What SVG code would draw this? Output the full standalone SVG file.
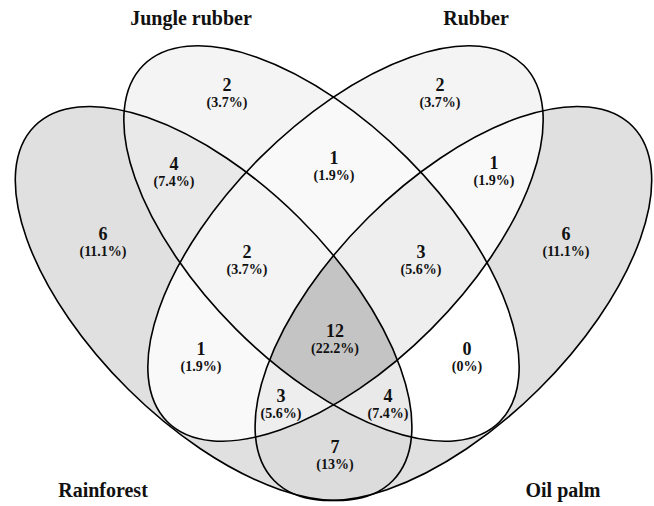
<svg xmlns="http://www.w3.org/2000/svg" xmlns:xlink="http://www.w3.org/1999/xlink" width="654" height="506" viewBox="0 0 654 506">
<style>
.o{fill:none;stroke:#000;stroke-width:1.6}
.n{font-family:"Liberation Serif","Times New Roman",serif;font-weight:bold;font-size:18px;text-anchor:middle;fill:#111}
.p{font-family:"Liberation Serif","Times New Roman",serif;font-weight:bold;font-size:14px;text-anchor:middle;fill:#111}
.t{font-family:"Liberation Serif","Times New Roman",serif;font-weight:bold;font-size:20px;text-anchor:middle;fill:#111}
</style>
<defs>
<ellipse id="eRF" cx="213.6" cy="303.5" rx="252" ry="121" transform="rotate(44.7 213.6 303.5)"/>
<ellipse id="eJR" cx="321.5" cy="243.5" rx="252" ry="121" transform="rotate(45 321.5 243.5)"/>
<ellipse id="eRB" cx="345.5" cy="243.5" rx="252" ry="121" transform="rotate(-45 345.5 243.5)"/>
<ellipse id="eOP" cx="453.4" cy="303.5" rx="252" ry="121" transform="rotate(-44.7 453.4 303.5)"/>
<clipPath id="cRF"><use xlink:href="#eRF"/></clipPath>
<clipPath id="cJR"><use xlink:href="#eJR"/></clipPath>
<clipPath id="cRB"><use xlink:href="#eRB"/></clipPath>
<clipPath id="cOP"><use xlink:href="#eOP"/></clipPath>
</defs>
<rect width="654" height="506" fill="#fff"/>
<g id="regions">
<use xlink:href="#eRF" fill="#e0e0e0"/>
<use xlink:href="#eJR" fill="#f4f4f4"/>
<use xlink:href="#eRB" fill="#f4f4f4"/>
<use xlink:href="#eOP" fill="#e0e0e0"/>
<use xlink:href="#eJR" clip-path="url(#cRF)" fill="#e9e9e9"/>
<use xlink:href="#eRB" clip-path="url(#cRF)" fill="#f9f9f9"/>
<use xlink:href="#eOP" clip-path="url(#cRF)" fill="#dcdcdc"/>
<use xlink:href="#eRB" clip-path="url(#cJR)" fill="#f9f9f9"/>
<use xlink:href="#eOP" clip-path="url(#cJR)" fill="#ffffff"/>
<use xlink:href="#eOP" clip-path="url(#cRB)" fill="#f9f9f9"/>
<g clip-path="url(#cRF)"><use xlink:href="#eRB" clip-path="url(#cJR)" fill="#f4f4f4"/></g>
<g clip-path="url(#cRF)"><use xlink:href="#eOP" clip-path="url(#cJR)" fill="#e9e9e9"/></g>
<g clip-path="url(#cRF)"><use xlink:href="#eOP" clip-path="url(#cRB)" fill="#eeeeee"/></g>
<g clip-path="url(#cJR)"><use xlink:href="#eOP" clip-path="url(#cRB)" fill="#eeeeee"/></g>
<g clip-path="url(#cRF)"><g clip-path="url(#cJR)"><use xlink:href="#eOP" clip-path="url(#cRB)" fill="#c4c4c4"/></g></g>
</g>
<g id="rainforest"><use xlink:href="#eRF" class="o"/><text class="t" x="103" y="497">Rainforest</text></g>
<g id="jungle-rubber"><use xlink:href="#eJR" class="o"/><text class="t" x="191" y="25">Jungle rubber</text></g>
<g id="rubber"><use xlink:href="#eRB" class="o"/><text class="t" x="476" y="25">Rubber</text></g>
<g id="oil-palm"><use xlink:href="#eOP" class="o"/><text class="t" x="563" y="497">Oil palm</text></g>
<g id="counts">
<text class="n" x="227" y="91">2</text><text class="p" x="227" y="107">(3.7%)</text>
<text class="n" x="440" y="91">2</text><text class="p" x="440" y="107">(3.7%)</text>
<text class="n" x="174" y="170">4</text><text class="p" x="174" y="186">(7.4%)</text>
<text class="n" x="334" y="164">1</text><text class="p" x="334" y="180">(1.9%)</text>
<text class="n" x="494" y="169">1</text><text class="p" x="494" y="185">(1.9%)</text>
<text class="n" x="103" y="240">6</text><text class="p" x="103" y="256">(11.1%)</text>
<text class="n" x="566" y="240">6</text><text class="p" x="566" y="256">(11.1%)</text>
<text class="n" x="247" y="258">2</text><text class="p" x="247" y="274">(3.7%)</text>
<text class="n" x="421" y="258">3</text><text class="p" x="421" y="274">(5.6%)</text>
<text class="n" x="335" y="337">12</text><text class="p" x="335" y="353">(22.2%)</text>
<text class="n" x="201" y="355">1</text><text class="p" x="201" y="371">(1.9%)</text>
<text class="n" x="467" y="355">0</text><text class="p" x="467" y="371">(0%)</text>
<text class="n" x="281" y="402">3</text><text class="p" x="281" y="418">(5.6%)</text>
<text class="n" x="388" y="402">4</text><text class="p" x="388" y="418">(7.4%)</text>
<text class="n" x="335" y="453">7</text><text class="p" x="335" y="469">(13%)</text>
</g>
</svg>
